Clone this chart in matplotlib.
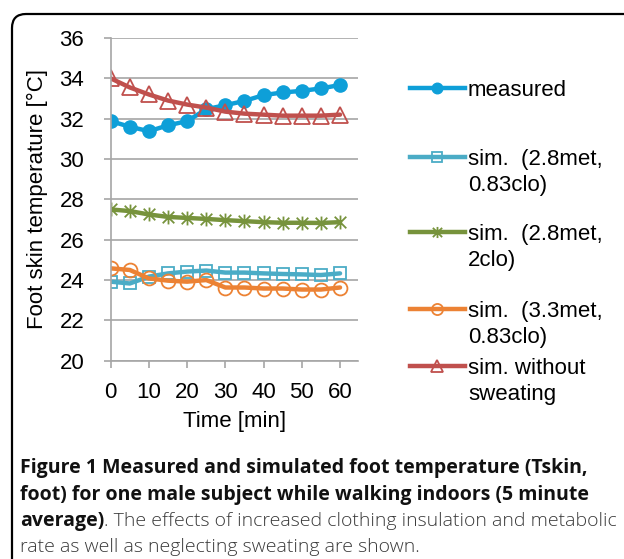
import numpy as np
import matplotlib
matplotlib.use("Agg")
import matplotlib.pyplot as plt
from matplotlib.path import Path
from matplotlib.lines import Line2D
from matplotlib.patches import FancyBboxPatch

plt.rcParams['font.family'] = ['Liberation Sans', 'DejaVu Sans']

# data (5 minute averages)
time_min = [0, 5, 10, 15, 20, 25, 30, 35, 40, 45, 50, 55, 60]
measured = [31.88, 31.6, 31.38, 31.67, 31.88, 32.47, 32.67, 32.88, 33.17, 33.3, 33.38, 33.5, 33.67]
sim_28_083 = [23.92, 23.83, 24.17, 24.33, 24.42, 24.47, 24.37, 24.37, 24.33, 24.3, 24.28, 24.25, 24.33]
sim_28_2 = [27.5, 27.42, 27.25, 27.13, 27.08, 27.03, 26.97, 26.92, 26.87, 26.84, 26.84, 26.83, 26.87]
sim_33_083 = [24.58, 24.5, 24.08, 23.97, 23.92, 24.0, 23.63, 23.63, 23.58, 23.58, 23.53, 23.53, 23.63]
sim_nosweat = [34.0, 33.55, 33.2, 32.9, 32.7, 32.55, 32.35, 32.25, 32.2, 32.15, 32.15, 32.15, 32.2]

labels = ["measured", "sim.  (2.8met,\n0.83clo)", "sim.  (2.8met,\n2clo)",
          "sim.  (3.3met,\n0.83clo)", "sim. without\nsweating"]
yticks = [20, 22, 24, 26, 28, 30, 32, 34, 36]
xticks = [0, 10, 20, 30, 40, 50, 60]

# excel style star: x with a vertical bar
star = Path([(-1, -1), (1, 1), (-1, 1), (1, -1), (0, -1.2), (0, 1.2)],
            [Path.MOVETO, Path.LINETO, Path.MOVETO, Path.LINETO, Path.MOVETO, Path.LINETO])

styles = [
    dict(color='#0e9fd8', marker='o', ms=9.5, mfc='#0e9fd8', mec='#0e9fd8'),
    dict(color='#4bacc6', marker='s', ms=8.5, mfc='none', mec='#4bacc6', mew=1.3),
    dict(color='#77933c', marker=star, ms=10, mfc='none', mec='#77933c', mew=1.3),
    dict(color='#ec8234', marker='o', ms=10, mfc='none', mec='#ec8234', mew=1.3),
    dict(color='#c0504d', marker='^', ms=11, mfc='none', mec='#c0504d', mew=1.3),
]
series = [measured, sim_28_083, sim_28_2, sim_33_083, sim_nosweat]

fig = plt.figure(figsize=(6.24, 5.59), dpi=100)
ax = fig.add_axes([0.1774, 0.3547, 0.3963, 0.5773])

for vals, st in zip(series, styles):
    ax.plot(time_min, vals, lw=3.2, solid_capstyle='round', **st)

ax.set_xlim(0, 64.7)
ax.set_ylim(20, 36)
ax.set_xticks(xticks)
ax.set_yticks(yticks)
ax.grid(axis='y', color='#a6a6a6', lw=1.2)
ax.set_axisbelow(True)
for s in ['top', 'right']:
    ax.spines[s].set_visible(False)
for s in ['left', 'bottom']:
    ax.spines[s].set_color('#a6a6a6')
    ax.spines[s].set_linewidth(1.2)
ax.tick_params(axis='both', colors='#a6a6a6', labelcolor='black', labelsize=16,
               length=5, width=1.2)
ax.tick_params(axis='y', pad=14)
ax.tick_params(axis='x', pad=10)
ax.set_xlabel("Time [min]", fontsize=16, labelpad=6)
ax.set_ylabel("Foot skin temperature [°C]", fontsize=16, labelpad=8)

# legend drawn by hand so the handle sits on the first text line
leg_y = [88, 157, 232, 309, 366]
for lab, st, yp in zip(labels, styles, leg_y):
    yf = 1 - yp / 559
    fig.add_artist(Line2D([410 / 624, 465 / 624], [yf, yf], transform=fig.transFigure,
                          lw=3.2, color=st['color']))
    fig.add_artist(Line2D([437.5 / 624], [yf], transform=fig.transFigure, ls='none',
                          marker=st['marker'], ms=st['ms'] * 0.8, mfc=st['mfc'],
                          mec=st['mec'], mew=st.get('mew', 1)))
    fig.text(468 / 624, yf + 8 / 559, lab, fontsize=16, va='top', ha='left',
             linespacing=1.3)

# rounded frame running off the right and bottom edge
frame = FancyBboxPatch((0.12, -0.3), 7.0, 5.45 + 0.3,
                       boxstyle="round,pad=0,rounding_size=0.14",
                       transform=fig.dpi_scale_trans, fill=False, lw=1.6,
                       edgecolor='black', clip_on=False)
fig.add_artist(frame)

# caption
cap_font = ['Open Sans', 'DejaVu Sans']
cap_size = 14.0
x0 = 20 / 624
bold = dict(fontsize=cap_size, fontweight='bold', family=cap_font, va='baseline',
            color='#111111')
light = dict(fontsize=cap_size, fontweight='light', family=cap_font, va='baseline',
             color='#3a3a3a')
fig.text(x0, 1 - 473 / 559, "Figure 1 Measured and simulated foot temperature (Tskin,", **bold)
fig.text(x0, 1 - 500 / 559, "foot) for one male subject while walking indoors (5 minute", **bold)
t3 = fig.text(x0, 1 - 526 / 559, "average)", **bold)
renderer = fig.canvas.get_renderer()
w3 = t3.get_window_extent(renderer).width / fig.bbox.width
fig.text(x0 + w3, 1 - 526 / 559,
         ". The effects of increased clothing insulation and metabolic", **light)
fig.text(x0, 1 - 552 / 559, "rate as well as neglecting sweating are shown.", **light)

fig.savefig("out.png", dpi=100)
